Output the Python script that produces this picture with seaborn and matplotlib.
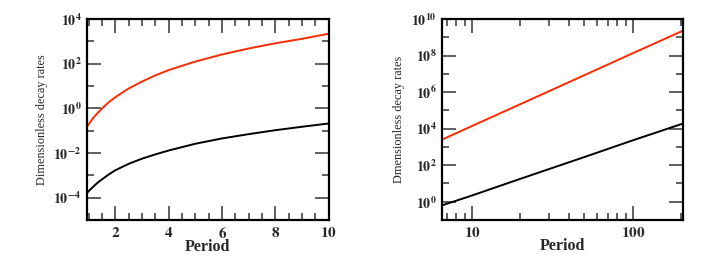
import numpy as np
import pandas as pd
import matplotlib
matplotlib.use("Agg")
import matplotlib.pyplot as plt
import matplotlib.ticker as mticker
import seaborn as sns

# values
period_a = [0.93, 1.0, 1.1, 1.2, 1.35, 1.5, 1.75, 2.0, 2.5, 3.0, 3.5, 4.0, 5.0, 6.0,
            7.0, 8.0, 9.0, 10.0]
red_a = [0.15, 0.2, 0.29, 0.42, 0.66, 1.0, 1.9, 3.2, 7.8, 16, 30, 52, 125, 260,
         480, 820, 1300, 2200]
black_a = [1.6e-4, 2.0e-4, 2.6e-4, 3.4e-4, 4.9e-4, 6.7e-4, 1.1e-3, 1.7e-3, 3.3e-3,
           5.6e-3, 8.7e-3, 0.013, 0.026, 0.045, 0.07, 0.105, 0.15, 0.21]

period_b = [6.5, 10, 20, 50, 100, 205]
red_b = [2500, 1.4e4, 2.2e5, 8.5e6, 1.35e8, 2.3e9]
black_b = [0.63, 2.2, 18, 280, 2300, 1.9e4]

sns.set_style("ticks")
plt.rcParams['font.family'] = ['Liberation Serif', 'DejaVu Serif']
plt.rcParams['mathtext.fontset'] = 'stix'

fig = plt.figure(figsize=(7.10, 2.57), dpi=100)
ax1 = fig.add_axes([0.1225, 0.144, 0.3405, 0.782])
ax2 = fig.add_axes([0.6225, 0.144, 0.3395, 0.782])


def pow_fmt(v, pos):
    if v <= 0:
        return ""
    e = int(round(np.log10(v)))
    return r"$\mathbf{10^{%d}}$" % e


def style(ax, ylabel):
    ax.set_yscale("log")
    for s in ax.spines.values():
        s.set_linewidth(1.6)
        s.set_color("black")
    ax.tick_params(which="both", direction="in", top=True, right=True,
                   width=1.2, color="#444444")
    ax.tick_params(axis="y", labelsize=10, pad=4)
    ax.tick_params(axis="x", labelsize=11, pad=4)
    ax.tick_params(which="major", length=10)
    ax.tick_params(which="minor", length=5)
    ax.yaxis.set_major_formatter(mticker.FuncFormatter(pow_fmt))
    ax.yaxis.set_minor_formatter(mticker.NullFormatter())
    ax.set_xlabel("Period", fontsize=11.5, fontweight="bold", labelpad=-1)
    ax.set_ylabel(ylabel, fontsize=8.8, labelpad=4)


df_a = pd.DataFrame({"Period": period_a * 2,
                     "rate": red_a + black_a,
                     "curve": ["red"] * len(period_a) + ["black"] * len(period_a)})
sns.lineplot(data=df_a, x="Period", y="rate", hue="curve",
             palette={"red": "#ff2a00", "black": "black"},
             linewidth=1.4, legend=False, ax=ax1, sort=False)
style(ax1, "Dimensionless decay rates")
ax1.set_xlim(0.93, 10)
ax1.set_ylim(1e-5, 1e4)
ax1.xaxis.set_major_locator(mticker.FixedLocator([2, 4, 6, 8, 10]))
ax1.xaxis.set_minor_locator(mticker.MultipleLocator(0.5))
ax1.xaxis.set_major_formatter(mticker.FuncFormatter(lambda v, p: r"$\mathbf{%d}$" % v))
ax1.yaxis.set_major_locator(mticker.FixedLocator([1e-4, 1e-2, 1, 1e2, 1e4]))
ax1.yaxis.set_minor_locator(mticker.FixedLocator([1e-5, 1e-3, 1e-1, 1e1, 1e3]))

df_b = pd.DataFrame({"Period": period_b * 2,
                     "rate": red_b + black_b,
                     "curve": ["red"] * len(period_b) + ["black"] * len(period_b)})
sns.lineplot(data=df_b, x="Period", y="rate", hue="curve",
             palette={"red": "#ff2a00", "black": "black"},
             linewidth=1.4, legend=False, ax=ax2, sort=False)
ax2.set_xscale("log")
style(ax2, "Dmensionless decay rates")
ax2.set_xlim(6.5, 205)
ax2.set_ylim(1e-1, 1e10)
ax2.xaxis.set_major_locator(mticker.FixedLocator([10, 100]))
ax2.xaxis.set_minor_locator(mticker.LogLocator(base=10, subs=np.arange(2, 10)))
ax2.xaxis.set_major_formatter(mticker.FuncFormatter(lambda v, p: r"$\mathbf{%d}$" % v))
ax2.xaxis.set_minor_formatter(mticker.NullFormatter())
ax2.yaxis.set_major_locator(mticker.FixedLocator([1, 1e2, 1e4, 1e6, 1e8, 1e10]))
ax2.yaxis.set_minor_locator(mticker.FixedLocator([1e-1, 1e1, 1e3, 1e5, 1e7, 1e9]))

fig.savefig("out.png", dpi=100)
